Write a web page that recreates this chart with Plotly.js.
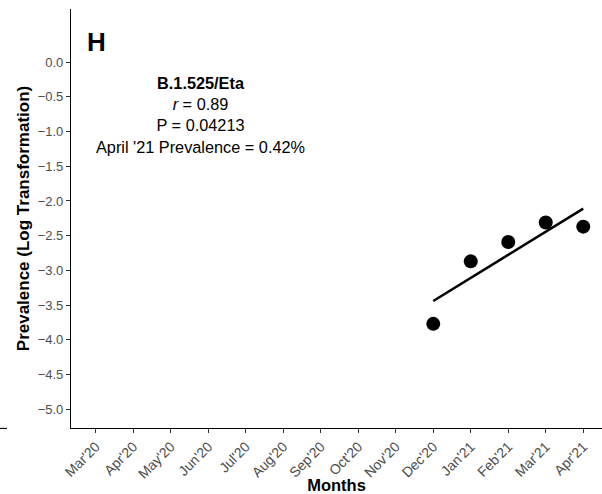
<!DOCTYPE html>
<html>
<head>
<meta charset="utf-8">
<script src="https://cdn.plot.ly/plotly-3.0.1.min.js"></script>
<style>html,body{margin:0;padding:0;background:#fff;overflow:hidden}#chart{width:602px;height:494px}</style>
</head>
<body>
<div id="chart"></div>
<script>
var months = ["Mar'20","Apr'20","May'20","Jun'20","Jul'20","Aug'20","Sep'20","Oct'20","Nov'20","Dec'20","Jan'21","Feb'21","Mar'21","Apr'21"];
var obsMonths = ["Dec'20","Jan'21","Feb'21","Mar'21","Apr'21"];
var prevalence = [-3.77, -2.87, -2.59, -2.31, -2.37];
var fitMonths = ["Dec'20","Apr'21"];
var fitValues = [-3.44, -2.11];
var yTicks = [0, -0.5, -1, -1.5, -2, -2.5, -3, -3.5, -4, -4.5, -5];
var yTickText = ["0.0","\u22120.5","\u22121.0","\u22121.5","\u22122.0","\u22122.5","\u22123.0","\u22123.5","\u22124.0","\u22124.5","\u22125.0"];

var FONT = "Liberation Sans, Arial, Helvetica, sans-serif";

var traces = [
  {x: fitMonths, y: fitValues, type: 'scatter', mode: 'lines',
   line: {color: '#000', width: 2.5}, hoverinfo: 'skip', showlegend: false},
  {x: obsMonths, y: prevalence, type: 'scatter', mode: 'markers',
   marker: {color: '#000', size: 14}, showlegend: false}
];

var layout = {
  width: 602, height: 494,
  margin: {l: 71, r: 0, t: 9, b: 66},
  paper_bgcolor: '#fff', plot_bgcolor: '#fff',
  font: {family: FONT, color: '#000'},
  showlegend: false,
  xaxis: {
    type: 'category', categoryorder: 'array', categoryarray: months,
    tickvals: months, ticktext: months,
    range: [-0.66, 13.5], autorange: false,
    showgrid: false, zeroline: false,
    showline: true, linecolor: '#000', linewidth: 1.1,
    ticks: 'outside', ticklen: 4, tickcolor: '#333', tickwidth: 1,
    tickangle: -45, tickfont: {family: FONT, size: 14, color: '#4d4d4d'},
    title: {text: '<b>Months</b>', font: {family: FONT, size: 16.5, color: '#000'}, standoff: 2}
  },
  yaxis: {
    range: [-5.27, 0.765], autorange: false,
    tickvals: yTicks, ticktext: yTickText,
    showgrid: false, zeroline: false,
    showline: true, linecolor: '#000', linewidth: 1.1,
    ticks: 'outside', ticklen: 4, tickcolor: '#333', tickwidth: 1,
    tickfont: {family: FONT, size: 13, color: '#4d4d4d'},
    title: {text: '<b>Prevalence (Log Transformation)</b>', font: {family: FONT, size: 17, color: '#000'}, standoff: 3}
  },
  annotations: [
    {xref: 'paper', yref: 'paper', x: (85 - 71) / 531, y: 1 - (42 - 9) / 419, xanchor: 'left', yanchor: 'middle',
     text: '<b>H</b>', showarrow: false, font: {family: FONT, size: 26, color: '#000'}},
    {xref: 'paper', yref: 'paper', x: (200 - 71) / 531, y: 1 - (115 - 9) / 419, xanchor: 'center', yanchor: 'middle',
     align: 'center', showarrow: false,
     text: "<b>B.1.525/Eta</b><br><i>r</i> = 0.89<br>P = 0.04213<br>April '21 Prevalence = 0.42%",
     font: {family: FONT, size: 16.3, color: '#000'}}
  ],
  shapes: [
    {type: 'line', xref: 'paper', yref: 'paper', x0: -71 / 531, x1: -64 / 531, y0: -0.001, y1: -0.001,
     line: {color: '#000', width: 1.1}}
  ]
};

Plotly.newPlot('chart', traces, layout, {displayModeBar: false, staticPlot: true});
</script>
</body>
</html>
